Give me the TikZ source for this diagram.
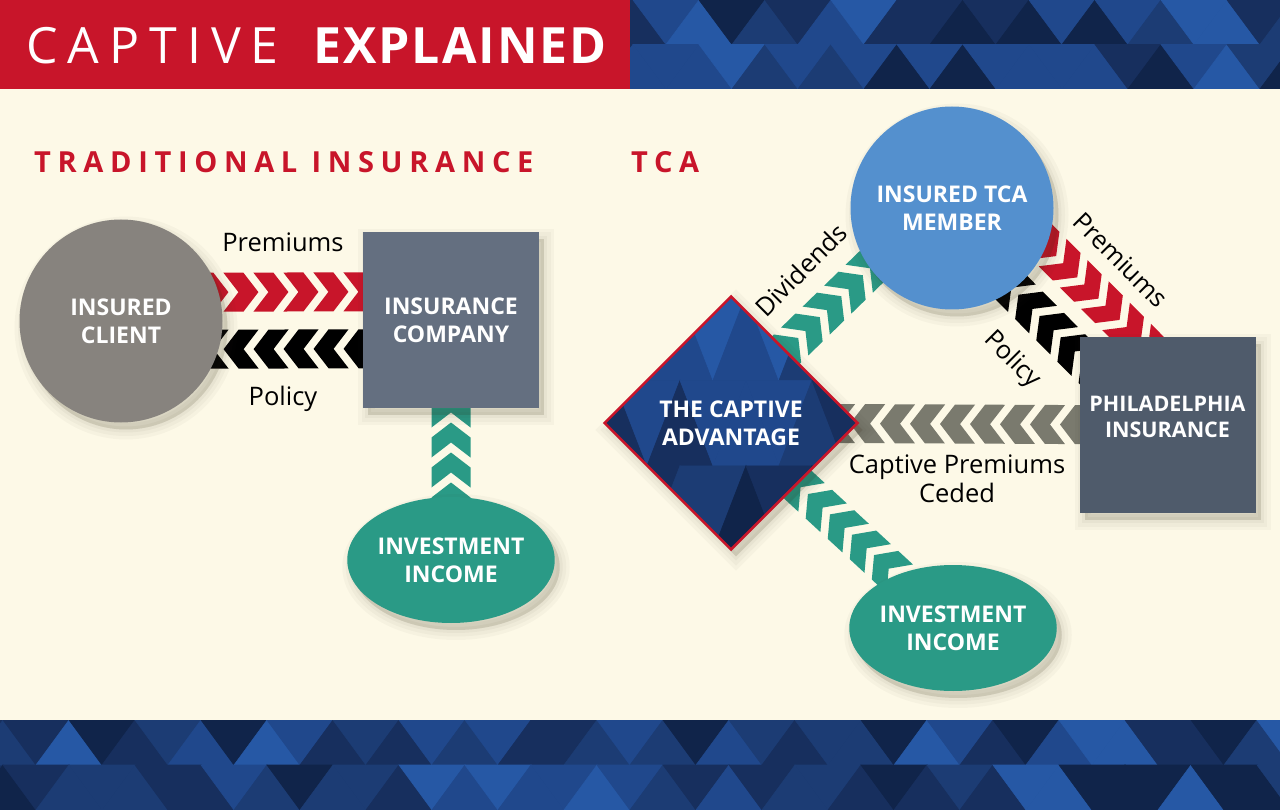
\documentclass[tikz,border=0pt]{standalone}
\usepackage{fontspec}
\setmainfont{Open Sans}
\newfontfamily\spacedA[LetterSpace=20]{Open Sans}
\newfontfamily\spacedB[LetterSpace=23]{Open Sans}
\newfontfamily\spacedC[LetterSpace=4]{Open Sans}
\usetikzlibrary{shapes.geometric,decorations.markings,calc}
\definecolor{cream}{HTML}{FDF9E7}
\definecolor{redc}{HTML}{C8152A}
\definecolor{clientgray}{HTML}{87837E}
\definecolor{compgray}{HTML}{646F80}
\definecolor{tealc}{HTML}{2A9A86}
\definecolor{tcablue}{HTML}{5490CE}
\definecolor{philagray}{HTML}{4F5B6B}
\definecolor{chevgray}{HTML}{7A7A6E}
\definecolor{shadowc}{HTML}{3A3420}
\definecolor{bp1}{HTML}{10244A}
\definecolor{bp2}{HTML}{172F5E}
\definecolor{bp3}{HTML}{1C3C74}
\definecolor{bp4}{HTML}{20488C}
\definecolor{bp5}{HTML}{2658A5}
\pgfdeclarelayer{base}
\pgfdeclarelayer{bands}
\pgfsetlayers{base,bands,main}
\newcommand{\tripattern}[5]{% x0, ytop, count, row height, width
  \foreach \row in {0,1} {
    \foreach \i in {0,...,#3} {
      \pgfmathsetmacro{\xa}{#1+\i*#5}
      \pgfmathsetmacro{\ya}{#2+\row*#4}
      \pgfmathsetmacro{\yb}{\ya+#4}
      \pgfmathsetmacro{\xb}{\xa+#5}
      \pgfmathsetmacro{\xm}{\xa+#5/2}
      \pgfmathsetmacro{\xn}{\xb+#5/2}
      \pgfmathrandominteger{\ca}{1}{5}
      \pgfmathrandominteger{\cb}{1}{5}
      \filldraw[fill=bp\ca, draw=bp\ca, line width=0.6pt] (\xa,\yb) -- (\xb,\yb) -- (\xm,\ya) -- cycle;
      \filldraw[fill=bp\cb, draw=bp\cb, line width=0.6pt] (\xm,\ya) -- (\xn,\ya) -- (\xb,\yb) -- cycle;
    }
  }
}
\tikzset{
  nodetext/.style={text=white, font=\fontsize{23}{28}\selectfont\bfseries, align=center, inner sep=0pt},
  shad/.style={
    preaction={fill=shadowc, fill opacity=0.03, draw=shadowc, draw opacity=0.03, line width=20pt, transform canvas={xshift=5pt, yshift=-7pt}},
    preaction={fill=shadowc, fill opacity=0.035, draw=shadowc, draw opacity=0.035, line width=13pt, transform canvas={xshift=5pt, yshift=-7pt}},
    preaction={fill=shadowc, fill opacity=0.04, draw=shadowc, draw opacity=0.04, line width=6pt, transform canvas={xshift=5pt, yshift=-7pt}},
    preaction={fill=shadowc, fill opacity=0.05, transform canvas={xshift=5pt, yshift=-7pt}}},
  roundnode/.style={circle, nodetext, shad, minimum size=203pt},
  boxnode/.style={rectangle, nodetext, shad, minimum width=176pt, minimum height=176pt},
  ovalnode/.style={ellipse, nodetext, shad, fill=tealc, minimum width=203pt, minimum height=126pt},
  lbl/.style={text=black, font=\fontsize{25.5}{29}\selectfont, inner sep=0pt},
  chevband/.style 2 args={postaction={decorate, decoration={markings,
    mark=between positions 0 and 1 step 30pt with {
      \fill[#1] (-17.5pt,#2+19.5pt) -- (2.5pt,#2+19.5pt) -- (17.5pt,#2) -- (2.5pt,#2-19.5pt) -- (-17.5pt,#2-19.5pt) -- (-2.5pt,#2) -- cycle;
    }}}},
}
\begin{document}
\begin{tikzpicture}[x=1pt,y=-1pt]
\useasboundingbox (0,0) rectangle (1280,810);
\pgfmathsetseed{11}
\begin{pgfonlayer}{base}
  \fill[cream] (0,0) rectangle (1280,810);
  \begin{scope}
    \clip (630,0) rectangle (1280,89);
    \fill[bp2] (630,0) rectangle (1280,89);
    \tripattern{600}{0}{10}{44.5}{66}
  \end{scope}
  \fill[redc] (0,0) rectangle (630,89);
  \begin{scope}
    \clip (0,720) rectangle (1280,810);
    \fill[bp2] (0,720) rectangle (1280,810);
    \tripattern{-30}{720}{20}{45}{66}
  \end{scope}
\end{pgfonlayer}

% titles
\node[anchor=base west, inner sep=0pt, text=white, font=\fontsize{50}{60}\spacedA] (t1) at (26,64) {CAPTIVE};
\node[anchor=base west, inner sep=0pt, text=white, font=\fontsize{50}{60}\spacedC\bfseries] (t2) at (313,64) {EXPLAINED};
\node[anchor=base west, inner sep=0pt, text=redc, font=\fontsize{29}{34}\spacedB\bfseries] (h1) at (34,173) {TRADITIONAL INSURANCE};
\node[anchor=base west, inner sep=0pt, text=redc, font=\fontsize{29}{34}\spacedB\bfseries] (h2) at (631,173) {TCA};

% left diagram
\node[roundnode, fill=clientgray] (client) at (121,321) {INSURED\\CLIENT};
\node[boxnode, fill=compgray] (company) at (451,320) {INSURANCE\\COMPANY};
\node[ovalnode] (inv1) at (451,560) {INVESTMENT\\INCOME};
\node[lbl, anchor=base] (premL) at (283,252) {Premiums};
\node[lbl, anchor=base] (polL) at (283,405) {Policy};

% right diagram
\node[roundnode, fill=tcablue] (tca) at (952,208) {INSURED TCA\\MEMBER};
\node[boxnode, fill=philagray, font=\fontsize{21.5}{26}\selectfont\bfseries] (phila) at (1167.5,425)
  {\raisebox{6pt}[\height][\depth]{\begin{tabular}{@{}c@{}}PHILADELPHIA\\INSURANCE\end{tabular}}};
\node[diamond, aspect=1, minimum width=254pt, minimum height=254pt, nodetext, shad, draw=redc, line width=2.5pt, fill=bp3,
  path picture={
    \begin{scope}[shift={(path picture bounding box.center)}]
      \foreach \row in {0,1,2} {
        \foreach \i in {0,...,4} {
          \pgfmathsetmacro{\xa}{-150+\i*66}
          \pgfmathsetmacro{\ya}{-128+\row*85.4}
          \pgfmathsetmacro{\yb}{\ya+85.4}
          \pgfmathtruncatemacro{\lo}{3-\row}
          \pgfmathtruncatemacro{\hi}{5-\row}
          \pgfmathrandominteger{\ca}{\lo}{\hi}
          \pgfmathrandominteger{\cb}{\lo}{\hi}
          \filldraw[fill=bp\ca, draw=bp\ca, line width=0.6pt] (\xa,\yb) -- (\xa+66,\yb) -- (\xa+33,\ya) -- cycle;
          \filldraw[fill=bp\cb, draw=bp\cb, line width=0.6pt] (\xa+33,\ya) -- (\xa+99,\ya) -- (\xa+66,\yb) -- cycle;
        }
      }
    \end{scope}
  }] (adv) at (731,423) {THE CAPTIVE\\ADVANTAGE};
\node[ovalnode] (inv2) at (953,628) {INVESTMENT\\INCOME};

\node[lbl, rotate=45] (divL) at (801,270) {Dividends};
\node[lbl, rotate=-45] (premR) at (1121,260) {Premiums};
\node[lbl, rotate=-45] (polR) at (1012,360) {Policy};
\node[lbl, align=center, font=\fontsize{25.5}{29}\selectfont, anchor=base] (ceded) at (957,502) {Captive Premiums\\Ceded};

% chevron connectors
\begin{pgfonlayer}{bands}
  \path[chevband={redc}{28.5pt}] (client.center) -- (company.center);
  \path[chevband={black}{28.5pt}] (company.center) -- (client.center);
  \path[chevband={tealc}{0pt}] (inv1.center) -- (company.center);
  \path[chevband={tealc}{14pt}] (adv.center) -- (tca.center);
  \path[chevband={redc}{40pt}] (tca.center) -- (phila.center);
  \path[chevband={black}{14pt}] (phila.center) -- (tca.center);
  \path[chevband={chevgray}{0pt}] (phila.center) -- (adv.center);
  \path[chevband={tealc}{0pt}] (inv2.center) -- (adv.center);
\end{pgfonlayer}
\end{tikzpicture}
\end{document}
